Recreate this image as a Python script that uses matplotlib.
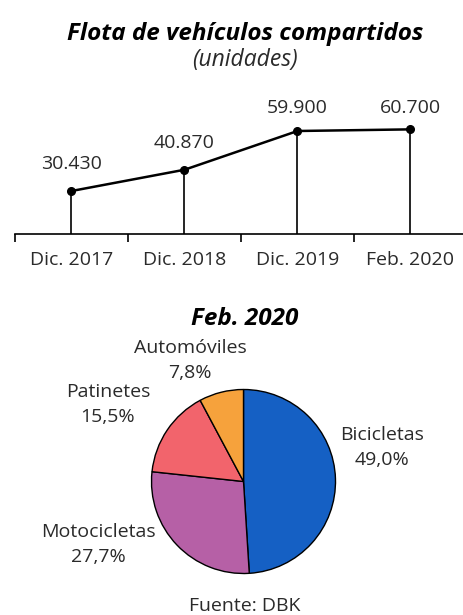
import matplotlib
matplotlib.use('Agg')
import matplotlib.pyplot as plt

# data
periods = ['Dic. 2017', 'Dic. 2018', 'Dic. 2019', 'Feb. 2020']
fleet = [30430, 40870, 59900, 60700]
fleet_labels = ['30.430', '40.870', '59.900', '60.700']
label_offsets = [16, 15.5, 13, 12]  # points above each marker

vehicle_types = ['Bicicletas', 'Motocicletas', 'Patinetes', 'Automóviles']
shares = [49.0, 27.7, 15.5, 7.8]
share_labels = ['49,0%', '27,7%', '15,5%', '7,8%']
pie_colors = ['#1560c4', '#b660a6', '#f2646c', '#f6a23c']
# baseline of first label line, in pie units (radius = 1)
label_pos = [(1.505, 0.451), (-1.582, -0.603), (-1.473, 0.918), (-0.582, 1.397)]

plt.rcParams['font.family'] = ['Open Sans', 'DejaVu Sans']

W, H = 464, 615
fig = plt.figure(figsize=(W / 100, H / 100), dpi=100)
txt = '#2a2a2a'

fig.text(245 / W, 1 - 40 / H, 'Flota de vehículos compartidos', ha='center', va='baseline',
         fontsize=17.5, fontweight='bold', fontstyle='italic', color='black')
fig.text(245 / W, 1 - 66 / H, '(unidades)', ha='center', va='baseline',
         fontsize=16.5, fontstyle='italic', color=txt)

# line chart: baseline at y=234 px, top at y=100 px
base_px, top_px = 234, 100
y_bottom = 9310
units_per_px = 1 / 0.002036
ax1 = fig.add_axes([15 / W, 1 - base_px / H, 452 / W, (base_px - top_px) / H])
x = list(range(len(periods)))
ax1.set_xlim(-0.5, len(periods) - 0.5)
ax1.set_ylim(y_bottom, y_bottom + (base_px - top_px) * units_per_px)
ax1.vlines(x, y_bottom, fleet, color='black', linewidth=1.2)
ax1.plot(x, fleet, color='black', linewidth=1.8, marker='o', markersize=5.5, zorder=3)
for xi, v, lab, off in zip(x, fleet, fleet_labels, label_offsets):
    ax1.annotate(lab, (xi, v), xytext=(0, off), textcoords='offset points',
                 ha='center', va='baseline', fontsize=14, color=txt)

for s in ['top', 'right', 'left']:
    ax1.spines[s].set_visible(False)
ax1.spines['bottom'].set_linewidth(1.2)
ax1.set_yticks([])
ax1.set_xticks(x)
ax1.set_xticklabels(periods, fontsize=14, color=txt)
ax1.tick_params(axis='x', which='major', length=0, pad=12)
ax1.set_xticks([i - 0.5 for i in x], minor=True)
ax1.tick_params(axis='x', which='minor', length=6, width=1.2, direction='out')

# pie chart
cx, cy, r = 243.5, 481.5, 92
top2, bot2 = 330, 595
ax2 = fig.add_axes([0, 1 - bot2 / H, 1, (bot2 - top2) / H])
ax2.pie(shares, colors=pie_colors, startangle=90, counterclock=False, radius=1,
        wedgeprops=dict(edgecolor='black', linewidth=1.0))
ax2.set_xlim((0 - cx) / r, (W - cx) / r)
ax2.set_ylim((cy - bot2) / r, (cy - top2) / r)
ax2.set_aspect('auto')
ax2.axis('off')
line_gap = 25 / r
for name, lab, (lx, ly) in zip(vehicle_types, share_labels, label_pos):
    ax2.text(lx, ly, name, ha='center', va='baseline', fontsize=14, color=txt, clip_on=False)
    ax2.text(lx, ly - line_gap, lab, ha='center', va='baseline', fontsize=14, color=txt,
             clip_on=False)

fig.text(245 / W, 1 - 325 / H, 'Feb. 2020', ha='center', va='baseline',
         fontsize=17.5, fontweight='bold', fontstyle='italic', color='black')
fig.text(245 / W, 1 - 611 / H, 'Fuente: DBK', ha='center', va='baseline',
         fontsize=14, color=txt)

fig.savefig('out.png', dpi=100)
